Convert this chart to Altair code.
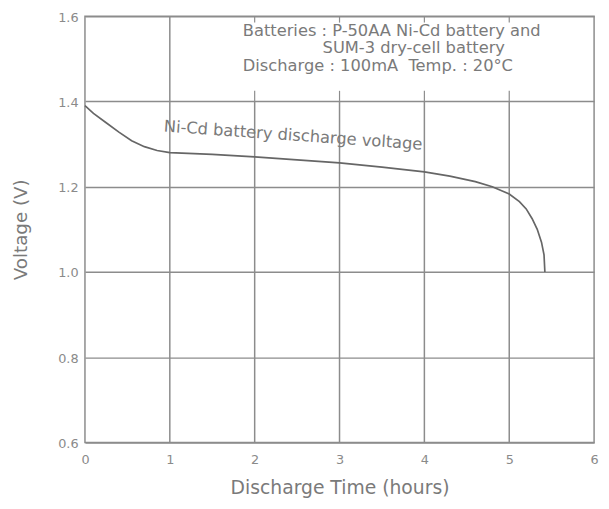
import altair as alt
import pandas as pd

# Ni-Cd discharge curve (hours, volts)
hours = [0.0, 0.1, 0.25, 0.4, 0.55, 0.7, 0.85, 1.0, 1.5, 2.0, 2.5, 3.0, 3.5, 4.0,
         4.3, 4.6, 4.8, 5.0, 5.12, 5.2, 5.27, 5.33, 5.38, 5.41, 5.42]
volts = [1.39, 1.372, 1.35, 1.328, 1.308, 1.294, 1.285, 1.28, 1.276, 1.27, 1.263,
         1.256, 1.246, 1.235, 1.225, 1.212, 1.20, 1.183, 1.165, 1.148, 1.125, 1.10,
         1.07, 1.04, 1.00]

x_ticks = [0, 1, 2, 3, 4, 5, 6]
y_ticks = [0.6, 0.8, 1.0, 1.2, 1.4, 1.6]

# vertical grid lines (x, from, to)
vgrid_x = [1, 2, 3, 4, 5]
vgrid_lo = [0.6, 0.6, 0.6, 0.6, 0.6]
vgrid_hi = [1.6, 1.4, 1.4, 1.4, 1.4]

# short tick stubs in the annotation box
stub_x = [2, 3, 4, 5, 2, 3, 4, 5]
stub_lo = [1.585, 1.585, 1.585, 1.585, 1.4, 1.4, 1.4, 1.4]
stub_hi = [1.6, 1.6, 1.6, 1.6, 1.425, 1.425, 1.425, 1.425]

NBSP = "\u00a0"
note_lines = ["Batteries : P-50AA Ni-Cd battery and",
              "SUM-3 dry-cell battery",
              "Discharge : 100mA" + NBSP + NBSP + "Temp. : 20°C"]
note_x = [1.86, 2.8, 1.86]
note_y = [1.566, 1.525, 1.483]

curve_label = "Ni-Cd battery discharge voltage"
curve_label_x = [0.93]
curve_label_y = [1.341]

GRID = "#8c8c8c"
TEXT = "#7a7a7a"
FONT = "DejaVu Sans"

curve_df = pd.DataFrame({"t": hours, "v": volts})
vgrid_df = pd.DataFrame({"x": vgrid_x, "lo": vgrid_lo, "hi": vgrid_hi})
stub_df = pd.DataFrame({"x": stub_x, "lo": stub_lo, "hi": stub_hi})
note_df = pd.DataFrame({"x": note_x, "y": note_y, "txt": note_lines})
label_df = pd.DataFrame({"x": curve_label_x, "y": curve_label_y, "txt": [curve_label]})

xscale = alt.Scale(domain=[0, 6], nice=False, zero=False)
yscale = alt.Scale(domain=[0.6, 1.6], nice=False, zero=False)

xaxis = alt.Axis(values=x_ticks, format="d", title="Discharge Time (hours)", grid=False,
                 ticks=False, domain=False, labelFontSize=13, labelColor="#8a8a8a",
                 labelFont=FONT, labelPadding=11, labelFlush=False,
                 titleFont=FONT, titleFontSize=19, titleFontWeight="normal",
                 titleColor=TEXT, titleY=46, titleBaseline="middle")
yaxis = alt.Axis(values=y_ticks, format=".1f", title="Voltage (V)", grid=True,
                 gridColor=GRID, gridWidth=1.5, ticks=False, domain=False,
                 labelFontSize=13, labelColor="#8a8a8a", labelFont=FONT,
                 labelPadding=7, labelFlush=False, labelOffset=1,
                 titleFont=FONT, titleFontSize=18.5, titleFontWeight="normal",
                 titleColor=TEXT, titleX=-65, titleBaseline="middle")

base_curve = alt.Chart(curve_df).mark_line(color="#666666", strokeWidth=1.7).encode(
    x=alt.X("t:Q", scale=xscale, axis=xaxis),
    y=alt.Y("v:Q", scale=yscale, axis=yaxis),
)

vgrid = alt.Chart(vgrid_df).mark_rule(color=GRID, strokeWidth=1.5).encode(
    x=alt.X("x:Q", scale=xscale, axis=xaxis),
    y=alt.Y("lo:Q", scale=yscale, axis=yaxis),
    y2="hi:Q",
)

stubs = alt.Chart(stub_df).mark_rule(color=GRID, strokeWidth=1.2).encode(
    x=alt.X("x:Q", scale=xscale, axis=xaxis),
    y=alt.Y("lo:Q", scale=yscale, axis=yaxis),
    y2="hi:Q",
)

notes = alt.Chart(note_df).mark_text(align="left", baseline="middle", font=FONT,
                                     fontSize=16.5, color=TEXT).encode(
    x=alt.X("x:Q", scale=xscale, axis=xaxis),
    y=alt.Y("y:Q", scale=yscale, axis=yaxis),
    text="txt:N",
)

label = alt.Chart(label_df).mark_text(align="left", baseline="middle", font=FONT,
                                      fontSize=16.5, color=TEXT, angle=4).encode(
    x=alt.X("x:Q", scale=xscale, axis=xaxis),
    y=alt.Y("y:Q", scale=yscale, axis=yaxis),
    text="txt:N",
)

chart = alt.layer(vgrid, stubs, base_curve, notes, label).properties(
    width=516, height=432,
    autosize=alt.AutoSizeParams(type="none"),
    padding={"left": 78, "top": 5, "right": 7, "bottom": 58},
    background="white",
).configure_view(stroke=GRID, strokeWidth=1.5)

chart.save("out.html", embed_options={"renderer": "svg", "actions": False})
